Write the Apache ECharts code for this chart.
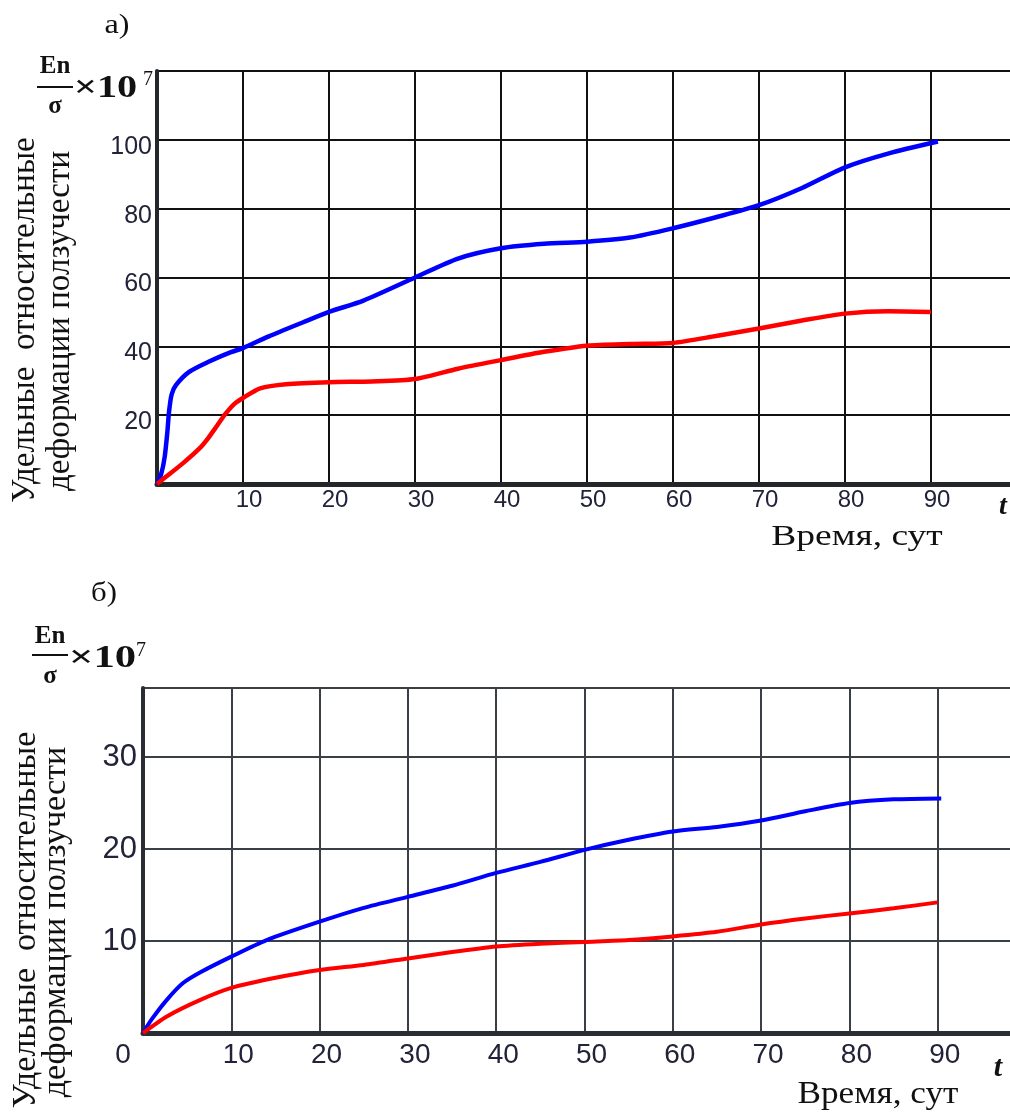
<!DOCTYPE html>
<html>
<head>
<meta charset="utf-8">
<script src="https://cdn.jsdelivr.net/npm/echarts@6/dist/echarts.min.js"></script>
<style>
html,body{margin:0;padding:0;background:#fff;}
#chart{width:1010px;height:1112px;}
</style>
</head>
<body>
<div id="chart"></div>
<script>
// ---- Chart (а): time axis ticks and series ----
var xTicksTop = [10, 20, 30, 40, 50, 60, 70, 80, 90];
var yTicksTop = [20, 40, 60, 80, 100];
var topBlueT = [0, 0.5, 0.9, 1.2, 1.4, 1.7, 2.2, 3.7, 6, 8.6, 10, 13, 17, 20, 24, 30, 35, 40, 45, 50, 55, 60, 65, 70, 75, 80, 85, 90.8];
var topBlueV = [0, 3, 8, 15, 21, 26, 28.7, 32.5, 35.5, 38.3, 39.5, 42.9, 47, 50, 53.3, 60, 65.5, 68.5, 69.8, 70.4, 71.6, 74.3, 77.5, 81, 86, 92, 96, 99.5];
var topRedT = [0, 1, 3, 5, 6, 7, 8, 9, 10, 12, 15, 20, 25, 30, 35, 40, 45, 50, 55, 60, 65, 70, 75, 80, 85, 90];
var topRedV = [0, 2, 6, 10.5, 13.5, 17, 20.5, 23.3, 25, 27.8, 29, 29.6, 29.8, 30.5, 33.5, 36, 38.4, 40.2, 40.7, 41, 43, 45.2, 47.5, 49.5, 50.2, 50];

// ---- Chart (б) ----
var xTicksBot = [0, 10, 20, 30, 40, 50, 60, 70, 80, 90];
var yTicksBot = [10, 20, 30];
var botBlueT = [0, 1, 2.7, 4.5, 6.5, 10, 14, 20, 25, 30, 35, 40, 45, 50, 55, 60, 65, 70, 75, 80, 85, 90.4];
var botBlueV = [0, 1.5, 3.6, 5.4, 6.6, 8.3, 10.1, 12.1, 13.6, 14.8, 16, 17.4, 18.6, 19.9, 21, 21.9, 22.4, 23.1, 24.1, 25, 25.4, 25.5];
var botRedT = [0, 2.7, 6.5, 10, 15, 20, 25, 30, 35, 40, 45, 50, 55, 60, 65, 70, 75, 80, 85, 90];
var botRedV = [0, 1.8, 3.6, 4.9, 6, 6.85, 7.4, 8.1, 8.8, 9.4, 9.7, 9.9, 10.1, 10.5, 11, 11.8, 12.45, 13, 13.55, 14.2];

// text
var panelA = 'а)';
var panelB = 'б)';
var yName1 = 'Удельные  относительные';
var yName2 = 'деформации ползучести';
var xName = 'Время, сут';
var tName = 't';

function pairs(t, v) { return t.map(function (x, i) { return [x, v[i]]; }); }

var chart = echarts.init(document.getElementById('chart'), null, {renderer: 'canvas'});

var SANS = '"Liberation Sans", Arial, sans-serif';
var SERIF = '"Liberation Serif", "Times New Roman", serif';
var labelColor = '#22223a';

function fracGroup(x0, yEn, yLine, ySig, yX, ySup, xSup, fsz, xsz, sx) {
  return [
    {type: 'text', x: x0 + 18, y: yEn, style: {text: 'En', font: 'bold ' + fsz + 'px ' + SERIF, fill: '#111', align: 'center', verticalAlign: 'middle'}},
    {type: 'line', shape: {x1: x0, y1: yLine, x2: x0 + 36, y2: yLine}, style: {stroke: '#111', lineWidth: 2}},
    {type: 'text', x: x0 + 18, y: ySig, style: {text: 'σ', font: 'bold ' + fsz + 'px ' + SERIF, fill: '#111', align: 'center', verticalAlign: 'middle'}},
    {type: 'text', x: x0 + 37, y: yX, scaleX: sx, style: {text: '×10', font: 'bold ' + xsz + 'px ' + SERIF, fill: '#111', align: 'left', verticalAlign: 'middle'}},
    {type: 'text', x: xSup, y: ySup, style: {text: '7', font: '20px ' + SERIF, fill: '#111', align: 'left', verticalAlign: 'middle'}}
  ];
}

var graphics = [
  {type: 'text', x: 117, y: 26, scaleX: 1.15, style: {text: panelA, font: '28px ' + SERIF, fill: '#111', align: 'center', verticalAlign: 'middle'}},
  {type: 'text', x: 104, y: 594, scaleX: 1.1, style: {text: panelB, font: '28px ' + SERIF, fill: '#111', align: 'center', verticalAlign: 'middle'}},
  {type: 'text', x: 25, y: 320, rotation: Math.PI / 2, style: {text: yName1, font: '33px ' + SERIF, fill: '#111', align: 'center', verticalAlign: 'middle'}},
  {type: 'text', x: 60, y: 321, rotation: Math.PI / 2, style: {text: yName2, font: '33px ' + SERIF, fill: '#111', align: 'center', verticalAlign: 'middle'}},
  {type: 'text', x: 26, y: 920, rotation: Math.PI / 2, style: {text: yName1, font: '34px ' + SERIF, fill: '#111', align: 'center', verticalAlign: 'middle'}},
  {type: 'text', x: 56, y: 922, rotation: Math.PI / 2, style: {text: yName2, font: '34px ' + SERIF, fill: '#111', align: 'center', verticalAlign: 'middle'}},
  {type: 'text', x: 857, y: 537, scaleX: 1.25, style: {text: xName, font: '30px ' + SERIF, fill: '#111', align: 'center', verticalAlign: 'middle'}},
  {type: 'text', x: 878, y: 1095, scaleX: 1.1, style: {text: xName, font: '32px ' + SERIF, fill: '#111', align: 'center', verticalAlign: 'middle'}},
  {type: 'text', x: 1003, y: 507, style: {text: tName, font: 'italic bold 28px ' + SERIF, fill: '#111', align: 'center', verticalAlign: 'middle'}},
  {type: 'text', x: 998, y: 1068, style: {text: tName, font: 'italic bold 30px ' + SERIF, fill: '#111', align: 'center', verticalAlign: 'middle'}}
].concat(fracGroup(37, 67, 87, 107, 89, 80, 143, 25, 31, 1.3))
 .concat(fracGroup(32, 637, 655, 677, 659, 651, 136, 25, 31, 1.38));

var option = {
  animation: false,
  backgroundColor: '#fff',
  graphic: graphics,
  grid: [
    {left: 157, top: 71, width: 860, height: 413, show: false, outerBoundsMode: 'none', containLabel: false},
    {left: 143, top: 688, width: 883, height: 345, show: false, outerBoundsMode: 'none', containLabel: false}
  ],
  xAxis: [
    {
      type: 'value', gridIndex: 0, min: 0, max: 100, interval: 10,
      axisLine: {show: true, onZero: false, lineStyle: {color: '#23262b', width: 5}},
      axisTick: {show: false},
      splitLine: {show: true, lineStyle: {color: '#111', width: 2}},
      axisLabel: {
        margin: 4, color: labelColor, fontFamily: SANS, fontSize: 24,
        padding: [0, 0, 0, 12],
        formatter: function (v) { return xTicksTop.indexOf(v) >= 0 ? String(v) : ''; }
      }
    },
    {
      type: 'value', gridIndex: 1, min: 0, max: 100, interval: 10,
      axisLine: {show: true, onZero: false, lineStyle: {color: '#2a2e34', width: 5}},
      axisTick: {show: false},
      splitLine: {show: true, lineStyle: {color: '#3a3e45', width: 2}},
      axisLabel: {
        margin: 8, color: labelColor, fontFamily: SANS, fontSize: 28,
        formatter: function (v) {
          if (xTicksBot.indexOf(v) < 0) return '';
          return v === 0 ? '{z|0}' : '{n|' + v + '}';
        },
        rich: {
          z: {padding: [0, 40, 0, 0], fontSize: 28, fontFamily: SANS, color: labelColor},
          n: {padding: [0, 0, 0, 14], fontSize: 28, fontFamily: SANS, color: labelColor}
        }
      }
    }
  ],
  yAxis: [
    {
      type: 'value', gridIndex: 0, min: 0, max: 120, interval: 20,
      axisLine: {show: true, onZero: false, lineStyle: {color: '#23262b', width: 4}},
      axisTick: {show: false},
      splitLine: {show: true, lineStyle: {color: '#111', width: 2}},
      axisLabel: {
        margin: 5, color: labelColor, fontFamily: SANS, fontSize: 25,
        formatter: function (v) { return yTicksTop.indexOf(v) >= 0 ? '{y|' + v + '}' : ''; },
        rich: {y: {padding: [14, 0, 0, 0], fontSize: 25, fontFamily: SANS, color: labelColor}}
      }
    },
    {
      type: 'value', gridIndex: 1, min: 0, max: 37.5, interval: 10,
      axisLine: {show: true, onZero: false, lineStyle: {color: '#2a2e34', width: 4}},
      axisTick: {show: false},
      splitLine: {show: true, lineStyle: {color: '#3a3e45', width: 2}},
      axisLabel: {
        margin: 6, color: labelColor, fontFamily: SANS, fontSize: 31,
        formatter: function (v) { return yTicksBot.indexOf(v) >= 0 ? String(v) : ''; }
      }
    }
  ],
  series: [
    {type: 'line', xAxisIndex: 0, yAxisIndex: 0, data: pairs(topBlueT, topBlueV), showSymbol: false, smooth: 0.25, lineStyle: {color: '#0000ff', width: 4.5}, z: 5},
    {type: 'line', xAxisIndex: 0, yAxisIndex: 0, data: pairs(topRedT, topRedV), showSymbol: false, smooth: 0.25, lineStyle: {color: '#ff0000', width: 4.5}, z: 5},
    {type: 'line', xAxisIndex: 1, yAxisIndex: 1, data: pairs(botBlueT, botBlueV), showSymbol: false, smooth: 0.25, lineStyle: {color: '#0000ff', width: 4}, z: 5},
    {type: 'line', xAxisIndex: 1, yAxisIndex: 1, data: pairs(botRedT, botRedV), showSymbol: false, smooth: 0.25, lineStyle: {color: '#ff0000', width: 4}, z: 5}
  ]
};
chart.setOption(option);
</script>
</body>
</html>
